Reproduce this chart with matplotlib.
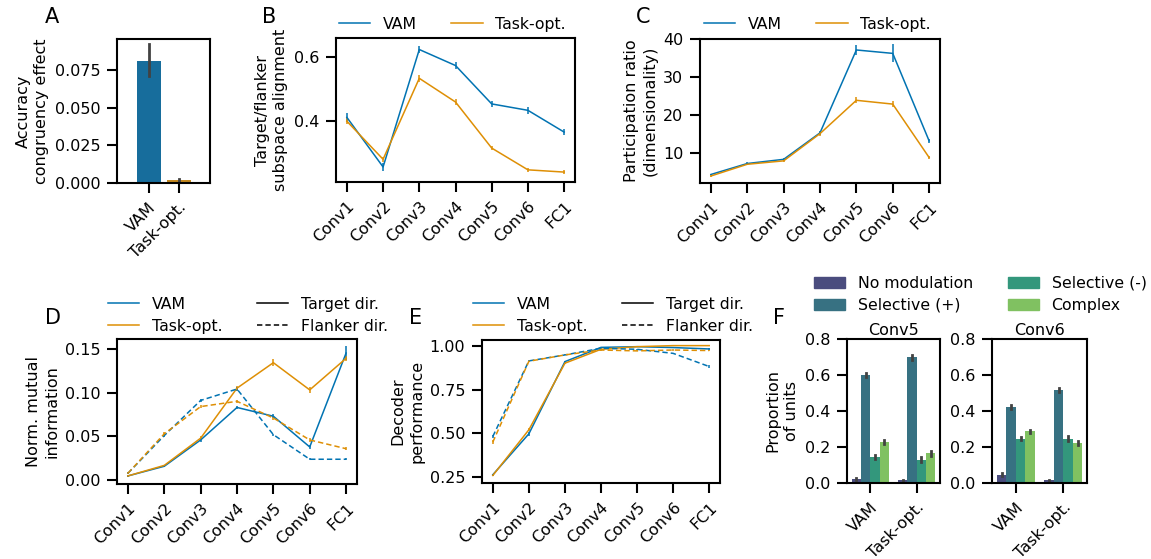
import numpy as np
import matplotlib
matplotlib.use("Agg")
import matplotlib.pyplot as plt
from matplotlib.lines import Line2D
from matplotlib.patches import Patch
import colorsys
import matplotlib.colors as mcolors

# ---------------- data ----------------
layers = ["Conv1", "Conv2", "Conv3", "Conv4", "Conv5", "Conv6", "FC1"]
models = ["VAM", "Task-opt."]

# A: accuracy congruency effect
acc_effect = [0.0811, 0.0018]
acc_err_lo = [0.0707, 0.0011]
acc_err_hi = [0.0919, 0.0028]

# B: target/flanker subspace alignment
align_vam = [0.410, 0.255, 0.622, 0.572, 0.452, 0.432, 0.364]
align_vam_err = [0.013, 0.012, 0.012, 0.010, 0.010, 0.010, 0.010]
align_task = [0.398, 0.279, 0.532, 0.458, 0.314, 0.246, 0.239]
align_task_err = [0.010, 0.008, 0.010, 0.008, 0.006, 0.006, 0.007]

# C: participation ratio
pr_vam = [4.2, 7.1, 8.2, 15.2, 37.1, 36.2, 13.1]
pr_vam_err = [0.2, 0.3, 0.4, 0.6, 1.3, 2.4, 0.6]
pr_task = [3.8, 6.9, 7.8, 15.0, 23.8, 22.8, 8.7]
pr_task_err = [0.2, 0.2, 0.3, 0.5, 0.8, 0.8, 0.5]

# D: normalized mutual information
mi_vam_target = [0.005, 0.016, 0.046, 0.083, 0.073, 0.038, 0.145]
mi_vam_target_err = [0.001, 0.001, 0.002, 0.002, 0.002, 0.002, 0.008]
mi_task_target = [0.005, 0.017, 0.048, 0.105, 0.134, 0.103, 0.139]
mi_task_target_err = [0.001, 0.001, 0.002, 0.003, 0.004, 0.003, 0.003]
mi_vam_flanker = [0.008, 0.051, 0.091, 0.104, 0.052, 0.024, 0.024]
mi_vam_flanker_err = [0.001, 0.002, 0.002, 0.002, 0.001, 0.001, 0.001]
mi_task_flanker = [0.008, 0.053, 0.084, 0.090, 0.071, 0.046, 0.036]
mi_task_flanker_err = [0.001, 0.002, 0.002, 0.002, 0.002, 0.002, 0.002]

# E: decoder performance
dec_vam_target = [0.265, 0.498, 0.909, 0.990, 0.994, 0.989, 0.981]
dec_vam_target_err = [0.006, 0.010, 0.006, 0.003, 0.002, 0.003, 0.004]
dec_task_target = [0.261, 0.521, 0.900, 0.979, 0.994, 1.000, 1.000]
dec_task_target_err = [0.005, 0.008, 0.005, 0.003, 0.002, 0.001, 0.001]
dec_vam_flanker = [0.483, 0.913, 0.947, 0.985, 0.979, 0.956, 0.881]
dec_vam_flanker_err = [0.010, 0.004, 0.003, 0.002, 0.003, 0.004, 0.007]
dec_task_flanker = [0.451, 0.911, 0.947, 0.975, 0.970, 0.975, 0.972]
dec_task_flanker_err = [0.010, 0.004, 0.003, 0.003, 0.003, 0.003, 0.003]

# F: unit modulation proportions
unit_types = ["No modulation", "Selective (+)", "Selective (-)", "Complex"]
conv5_vam = [0.024, 0.599, 0.145, 0.227]
conv5_task = [0.015, 0.698, 0.130, 0.164]
conv6_vam = [0.047, 0.422, 0.247, 0.287]
conv6_task = [0.015, 0.517, 0.247, 0.223]
conv5_err = [[0.005, 0.012, 0.012, 0.010], [0.004, 0.015, 0.012, 0.012]]
conv6_err = [[0.006, 0.010, 0.010, 0.010], [0.004, 0.010, 0.012, 0.010]]

# ---------------- style ----------------
W, H = 1151, 559
FS = 11.5
plt.rcParams.update({
    "font.family": ["DejaVu Sans"],
    "font.size": FS,
    "axes.linewidth": 1.5,
    "xtick.major.size": 7,
    "ytick.major.size": 7,
    "xtick.major.width": 1.5,
    "ytick.major.width": 1.5,
    "xtick.major.pad": 5,
    "ytick.major.pad": 5,
    "xtick.labelsize": FS,
    "ytick.labelsize": FS,
    "axes.labelsize": FS,
    "legend.fontsize": 11.3,
})

BLUE = "#0173b2"
ORANGE = "#de8f05"


def desat(c, prop=0.75):
    r, g, b = mcolors.to_rgb(c)
    h, l, s = colorsys.rgb_to_hls(r, g, b)
    return colorsys.hls_to_rgb(h, l, s * prop)


VIRIDIS4 = ["#414487", "#2a788e", "#22a884", "#7ad151"]
ERRC = "#424242"

fig = plt.figure(figsize=(W / 100, H / 100), dpi=100)


def ax_px(l, t, r, b):
    return fig.add_axes([l / W, 1 - b / H, (r - l) / W, (b - t) / H])


def px(x, y):
    return (x / W, 1 - y / H)


def rot_labels(ax, labels):
    ax.set_xticklabels(labels, rotation=45, ha="right", rotation_mode="anchor")


def ylab(ax, text):
    ax.set_ylabel(text, linespacing=1.3)


x = np.arange(len(layers))

# ---------------- A ----------------
axA = ax_px(117, 39, 210, 183)
colsA = [desat(BLUE), desat(ORANGE)]
xa = np.arange(2)
axA.bar(xa, acc_effect, width=0.8, color=colsA)
for i in range(2):
    axA.plot([xa[i], xa[i]], [acc_err_lo[i], acc_err_hi[i]], color=ERRC, lw=2)
axA.set_xlim(-1.05, 2.05)
axA.set_ylim(0, 0.0955)
axA.set_yticks([0.0, 0.025, 0.05, 0.075])
axA.set_xticks(xa)
rot_labels(axA, models)
ylab(axA, "Accuracy\ncongruency effect")


# ---------------- line helpers ----------------
def eline(ax, y, err, color, ls="-"):
    ax.errorbar(x, y, yerr=err, color=color, lw=1.1, elinewidth=1.1,
                capsize=0, ls=ls, dashes=(3.5, 2) if ls == "--" else (None, None))


def model_legend(anchor):
    h = [Line2D([], [], color=BLUE, lw=1.1), Line2D([], [], color=ORANGE, lw=1.1)]
    fig.legend(h, models, loc="upper left", bbox_to_anchor=anchor, ncol=2,
               frameon=False, borderpad=0, handlelength=2.0, columnspacing=2.2)


def full_legend(anchor):
    h = [Line2D([], [], color=BLUE, lw=1.1), Line2D([], [], color=ORANGE, lw=1.1),
         Line2D([], [], color="k", lw=1.1), Line2D([], [], color="k", lw=1.1, ls="--", dashes=(3.5, 2))]
    fig.legend(h, models + ["Target dir.", "Flanker dir."], loc="upper left",
               bbox_to_anchor=anchor, ncol=2, frameon=False, borderpad=0,
               handlelength=2.0, columnspacing=2.2, labelspacing=0.45)


# ---------------- B ----------------
axB = ax_px(336, 38, 575, 182)
eline(axB, align_vam, align_vam_err, BLUE)
eline(axB, align_task, align_task_err, ORANGE)
axB.set_xlim(-0.3, 6.3)
axB.set_ylim(0.208, 0.658)
axB.set_yticks([0.4, 0.6])
axB.set_xticks(x)
rot_labels(axB, layers)
ylab(axB, "Target/flanker\nsubspace alignment")
model_legend(px(331, 9))

# ---------------- C ----------------
axC = ax_px(700, 39, 940, 183)
eline(axC, pr_vam, pr_vam_err, BLUE)
eline(axC, pr_task, pr_task_err, ORANGE)
axC.set_xlim(-0.3, 6.3)
axC.set_ylim(1.95, 40.0)
axC.set_yticks([10, 20, 30, 40])
axC.set_xticks(x)
rot_labels(axC, layers)
ylab(axC, "Participation ratio\n(dimensionality)")
model_legend(px(696, 9))

# ---------------- D ----------------
axD = ax_px(117, 339, 357, 484)
eline(axD, mi_vam_target, mi_vam_target_err, BLUE)
eline(axD, mi_task_target, mi_task_target_err, ORANGE)
eline(axD, mi_vam_flanker, mi_vam_flanker_err, BLUE, "--")
eline(axD, mi_task_flanker, mi_task_flanker_err, ORANGE, "--")
axD.set_xlim(-0.3, 6.3)
axD.set_ylim(-0.0042, 0.161)
axD.set_yticks([0.0, 0.05, 0.10, 0.15])
axD.set_xticks(x)
rot_labels(axD, layers)
ylab(axD, "Norm. mutual\ninformation")
full_legend(px(100, 289))

# ---------------- E ----------------
axE = ax_px(482, 340, 720, 483)
eline(axE, dec_vam_target, dec_vam_target_err, BLUE)
eline(axE, dec_task_target, dec_task_target_err, ORANGE)
eline(axE, dec_vam_flanker, dec_vam_flanker_err, BLUE, "--")
eline(axE, dec_task_flanker, dec_task_flanker_err, ORANGE, "--")
axE.set_xlim(-0.3, 6.3)
axE.set_ylim(0.218, 1.032)
axE.set_yticks([0.25, 0.50, 0.75, 1.00])
axE.set_xticks(x)
rot_labels(axE, layers)
ylab(axE, "Decoder\nperformance")
full_legend(px(465, 289))

# ---------------- F ----------------
def bar_panel(ax, vam, task, errs, title):
    w = 0.8 / 4
    for k in range(4):
        xs = np.arange(2) - 0.4 + w * (k + 0.5)
        vals = [vam[k], task[k]]
        ax.bar(xs, vals, width=w, color=desat(VIRIDIS4[k]))
        for j in range(2):
            e = errs[j][k]
            ax.plot([xs[j], xs[j]], [vals[j] - e, vals[j] + e], color=ERRC, lw=2)
    ax.set_xlim(-0.5, 1.5)
    ax.set_ylim(0, 0.8)
    ax.set_yticks([0.0, 0.2, 0.4, 0.6, 0.8])
    ax.set_xticks([0, 1])
    rot_labels(ax, models)
    ax.set_title(title, fontsize=FS, pad=3)


axF1 = ax_px(847, 339, 940, 483)
bar_panel(axF1, conv5_vam, conv5_task, conv5_err, "Conv5")
ylab(axF1, "Proportion\nof units")
axF2 = ax_px(992, 339, 1087, 483)
bar_panel(axF2, conv6_vam, conv6_task, conv6_err, "Conv6")

hF = [Patch(color=desat(c)) for c in VIRIDIS4]
fig.legend(hF, unit_types, loc="upper left", bbox_to_anchor=px(806, 268), ncol=2,
           frameon=False, borderpad=0, handlelength=2.0, columnspacing=2.2,
           labelspacing=0.45)

# ---------------- panel letters ----------------
for lab, (lx, ly) in {"A": (45, 23), "B": (262, 23), "C": (636, 23),
                      "D": (45, 324), "E": (409, 324), "F": (773, 324)}.items():
    fig.text(lx / W, 1 - ly / H, lab, fontsize=15, ha="left", va="baseline")

fig.savefig("out.png", dpi=100)
